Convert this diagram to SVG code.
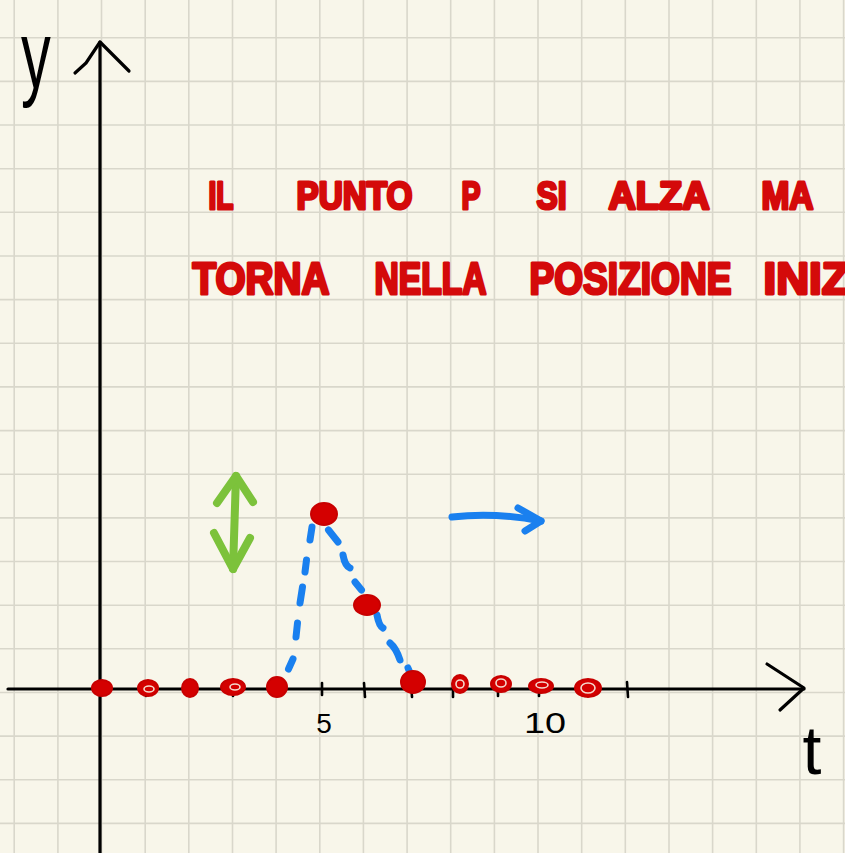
<svg xmlns="http://www.w3.org/2000/svg" width="845" height="853" viewBox="0 0 845 853">
<defs>
<style>
.grid line{stroke:#d9d7cb;stroke-width:1.6}
.ax{stroke:#000;stroke-width:3.2;fill:none;stroke-linecap:round;stroke-linejoin:round}
.tick{stroke:#000;stroke-width:2.6;stroke-linecap:round}
.hw{fill:#d40a0a;stroke:#d40a0a;stroke-width:3;stroke-linejoin:round;font-family:"Liberation Sans",Arial,sans-serif;font-weight:bold}
.dot{fill:#d40000;stroke:#c80000;stroke-width:2}
.hole{fill:none;stroke:#f4d8cc;stroke-width:1.6}
.blue{stroke:#1a80ef;stroke-width:7;stroke-linecap:round;fill:none;stroke-linejoin:round}
.green{stroke:#7cc23b;stroke-width:8;stroke-linecap:round;fill:none;stroke-linejoin:round}
.lbl{font-family:"Liberation Sans",Arial,sans-serif;fill:#000}
</style>
</defs>
<rect width="845" height="853" fill="#f8f6ea"/>
<g class="grid">
<line x1="14.2" y1="0" x2="14.2" y2="853"/><line x1="57.9" y1="0" x2="57.9" y2="853"/><line x1="101.5" y1="0" x2="101.5" y2="853"/><line x1="145.2" y1="0" x2="145.2" y2="853"/><line x1="188.8" y1="0" x2="188.8" y2="853"/><line x1="232.5" y1="0" x2="232.5" y2="853"/><line x1="276.1" y1="0" x2="276.1" y2="853"/><line x1="319.8" y1="0" x2="319.8" y2="853"/><line x1="363.4" y1="0" x2="363.4" y2="853"/><line x1="407.1" y1="0" x2="407.1" y2="853"/><line x1="450.7" y1="0" x2="450.7" y2="853"/><line x1="494.4" y1="0" x2="494.4" y2="853"/><line x1="538" y1="0" x2="538" y2="853"/><line x1="581.7" y1="0" x2="581.7" y2="853"/><line x1="625.3" y1="0" x2="625.3" y2="853"/><line x1="669" y1="0" x2="669" y2="853"/><line x1="712.6" y1="0" x2="712.6" y2="853"/><line x1="756.3" y1="0" x2="756.3" y2="853"/><line x1="799.9" y1="0" x2="799.9" y2="853"/><line x1="843.6" y1="0" x2="843.6" y2="853"/>
<line x1="0" y1="37.7" x2="845" y2="37.7"/><line x1="0" y1="81.4" x2="845" y2="81.4"/><line x1="0" y1="125" x2="845" y2="125"/><line x1="0" y1="168.7" x2="845" y2="168.7"/><line x1="0" y1="212.3" x2="845" y2="212.3"/><line x1="0" y1="256" x2="845" y2="256"/><line x1="0" y1="299.6" x2="845" y2="299.6"/><line x1="0" y1="343.3" x2="845" y2="343.3"/><line x1="0" y1="386.9" x2="845" y2="386.9"/><line x1="0" y1="430.6" x2="845" y2="430.6"/><line x1="0" y1="474.2" x2="845" y2="474.2"/><line x1="0" y1="517.9" x2="845" y2="517.9"/><line x1="0" y1="561.5" x2="845" y2="561.5"/><line x1="0" y1="605.2" x2="845" y2="605.2"/><line x1="0" y1="648.8" x2="845" y2="648.8"/><line x1="0" y1="692.5" x2="845" y2="692.5"/><line x1="0" y1="736.1" x2="845" y2="736.1"/><line x1="0" y1="779.8" x2="845" y2="779.8"/><line x1="0" y1="823.4" x2="845" y2="823.4"/>
</g>
<g id="y-axis">
<path class="ax" d="M100 853 L100 42"/>
<path class="ax" d="M75 73 L86 63 L100 42 L129 71"/>
<text class="lbl" x="36" y="88" font-size="96" text-anchor="middle" transform="translate(36 0) scale(0.62 1) translate(-36 0)">y</text>
</g>
<g id="t-axis">
<path class="ax" d="M8 689 L804 689"/>
<path class="ax" d="M767 664 L804 688 L780 710"/>
<g>
<line class="tick" x1="146" y1="683" x2="146" y2="696"/><line class="tick" x1="189" y1="683" x2="189" y2="696"/><line class="tick" x1="233" y1="683" x2="233" y2="696"/><line class="tick" x1="277" y1="683" x2="277" y2="696"/><line class="tick" x1="322" y1="683" x2="322" y2="695"/><line class="tick" x1="364" y1="683" x2="365" y2="697"/><line class="tick" x1="411" y1="683" x2="412" y2="697"/><line class="tick" x1="453" y1="683" x2="453" y2="697"/><line class="tick" x1="498" y1="683" x2="498" y2="696"/><line class="tick" x1="539" y1="683" x2="539" y2="696"/><line class="tick" x1="585" y1="683" x2="585" y2="696"/><line class="tick" x1="627" y1="682" x2="628" y2="697"/>
</g>
<text class="lbl" x="324" y="733" font-size="28" text-anchor="middle">5</text>
<text class="lbl" x="524" y="733" font-size="30" textLength="42" lengthAdjust="spacingAndGlyphs">10</text>
<text class="lbl" x="812" y="774" font-size="68" text-anchor="middle">t</text>
</g>
<g id="title">
<text class="hw" font-size="38" x="208.5" y="208.5" textLength="25" lengthAdjust="spacingAndGlyphs">IL</text>
<text class="hw" font-size="38" x="296.5" y="208.5" textLength="116" lengthAdjust="spacingAndGlyphs">PUNTO</text>
<text class="hw" font-size="38" x="461.5" y="208.5" textLength="19" lengthAdjust="spacingAndGlyphs">P</text>
<text class="hw" font-size="38" x="536.5" y="208.5" textLength="30" lengthAdjust="spacingAndGlyphs">SI</text>
<text class="hw" font-size="38" x="608.5" y="208.5" textLength="101" lengthAdjust="spacingAndGlyphs">ALZA</text>
<text class="hw" font-size="38" x="761.5" y="208.5" textLength="52" lengthAdjust="spacingAndGlyphs">MA</text>
<text class="hw" font-size="44" x="192.5" y="293.5" textLength="137" lengthAdjust="spacingAndGlyphs">TORNA</text>
<text class="hw" font-size="44" x="374.5" y="293.5" textLength="112" lengthAdjust="spacingAndGlyphs">NELLA</text>
<text class="hw" font-size="44" x="529.5" y="293.5" textLength="202" lengthAdjust="spacingAndGlyphs">POSIZIONE</text>
<text class="hw" font-size="44" x="763.5" y="293.5" textLength="86" lengthAdjust="spacingAndGlyphs">INIZ</text>
</g>
<g id="green-arrow">
<path class="green" d="M236 476 L233 569"/>
<path class="green" d="M217 503 L236 476 L253 502"/>
<path class="green" d="M214 533 L233 569 L250 538"/>
</g>
<g id="blue-arrow">
<path class="blue" d="M452 517 Q495 512 541 521"/>
<path class="blue" d="M518 508 L541 521 L525 531"/>
</g>
<g id="connectors">
<path class="blue" d="M288.5 669 L293 659"/>
<path class="blue" d="M296 637 L297.5 623"/>
<path class="blue" d="M300 603 L302.5 587"/>
<path class="blue" d="M305 572 L306.5 560"/>
<path class="blue" d="M310 540 L312 527"/>
<path class="blue" d="M328.5 530 L338 542"/>
<path class="blue" d="M343 555 Q345 566 350 568"/>
<path class="blue" d="M355 582 L361.5 590"/>
<path class="blue" d="M377 615 Q379 626 383 628"/>
<path class="blue" d="M390 643 Q396 648 400 660"/>
<path class="blue" d="M408 668 L413 680"/>
</g>
<g id="points">
<ellipse class="dot" cx="102" cy="688" rx="10" ry="8"/>
<ellipse class="dot" cx="148" cy="688" rx="10" ry="8"/><ellipse class="hole" cx="149" cy="689" rx="5" ry="3"/>
<ellipse class="dot" cx="190" cy="688" rx="8" ry="9"/>
<ellipse class="dot" cx="233" cy="687" rx="12" ry="8"/><ellipse class="hole" cx="235" cy="687" rx="5" ry="3"/>
<ellipse class="dot" cx="277" cy="687" rx="10" ry="10"/>
<ellipse class="dot" cx="324" cy="514" rx="13" ry="11"/>
<ellipse class="dot" cx="367" cy="605" rx="13" ry="10"/>
<ellipse class="dot" cx="413" cy="682" rx="12" ry="11"/>
<ellipse class="dot" cx="460" cy="684" rx="8" ry="9"/><ellipse class="hole" cx="460" cy="684" rx="4" ry="4"/>
<ellipse class="dot" cx="501" cy="684" rx="10" ry="8"/><ellipse class="hole" cx="501" cy="683" rx="5" ry="4"/>
<ellipse class="dot" cx="541" cy="686" rx="12" ry="7"/><ellipse class="hole" cx="542" cy="685" rx="6" ry="3"/>
<ellipse class="dot" cx="588" cy="688" rx="13" ry="9"/><ellipse class="hole" cx="588" cy="688" rx="7" ry="5"/>
</g>
</svg>
